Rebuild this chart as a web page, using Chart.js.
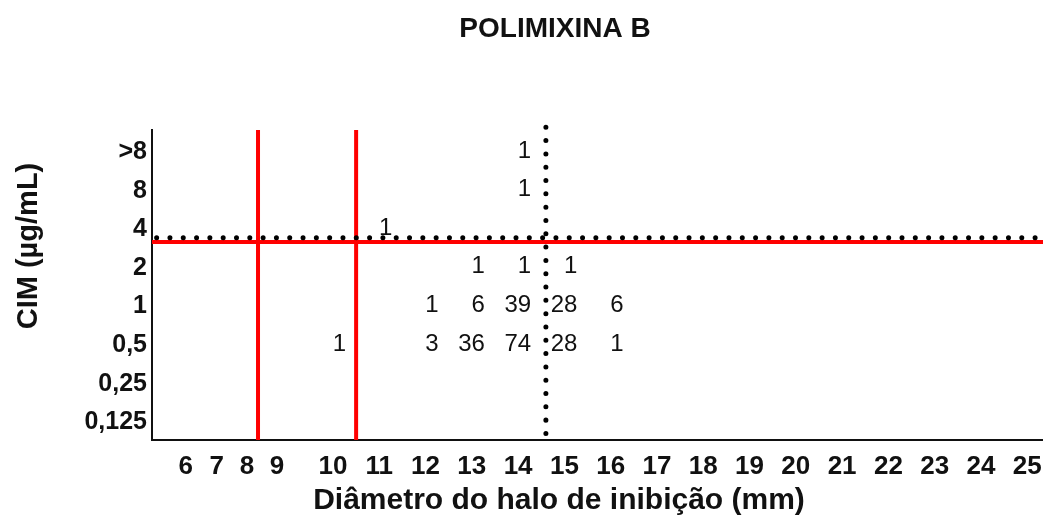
<!DOCTYPE html>
<html>
<head>
<meta charset="utf-8">
<title>Polimixina B</title>
<script src="https://cdn.jsdelivr.net/npm/chart.js@4"></script>
<style>
  html, body { margin: 0; padding: 0; background: #fff; overflow: hidden; }
  #wrap { width: 1043px; height: 524px; }
</style>
</head>
<body>
<div id="wrap"><canvas id="chart" width="1043" height="524"></canvas></div>
<script>
// Polimixina B — CIM x diâmetro do halo (scattergram with counts)

// Data

const chartTitle = 'POLIMIXINA B';
const xCaption   = 'Diâmetro do halo de inibição (mm)';
const yCaption   = 'CIM (µg/mL)';

const diameterLabels = ['6', '7', '8', '9', '10', '11', '12', '13', '14', '15',
                        '16', '17', '18', '19', '20', '21', '22', '23', '24', '25'];
const micLabels = ['>8', '8', '4', '2', '1', '0,5', '0,25', '0,125'];

// one entry per filled cell
const cellDiameter = [14, 14, 11, 13, 14, 15, 12, 13, 14, 15, 16, 10, 12, 13, 14, 15, 16];
const cellMic      = ['>8', '8', '4', '2', '2', '2', '1', '1', '1', '1', '1',
                      '0,5', '0,5', '0,5', '0,5', '0,5', '0,5'];
const cellCount    = [1, 1, 1, 1, 1, 1, 1, 6, 39, 28, 6, 1, 3, 36, 74, 28, 1];

// breakpoint lines (mm / MIC row index)
const redDiskCuts = [8.37, 10.5];
const redMicCut   = 2.33;
const dotDiskCut  = 14.6;
const dotMicCut   = 2.22;

// Axis layout (the x axis of the original is not evenly spaced below 10 mm)

const diameterSlots = [6.82, 7.49, 8.14, 8.79, 10, 11, 12, 13, 14, 15,
                       16, 17, 18, 19, 20, 21, 22, 23, 24, 25];
const X_MIN = 6.09, X_MAX = 25.34;
const Y_MIN = -0.57, Y_MAX = 7.46;

function mmToSlot(mm) {
  const d = diameterLabels.map(Number);
  for (let i = 0; i < d.length - 1; i++) {
    if (mm >= d[i] && mm <= d[i + 1]) {
      const t = (mm - d[i]) / (d[i + 1] - d[i]);
      return diameterSlots[i] + t * (diameterSlots[i + 1] - diameterSlots[i]);
    }
  }
  return diameterSlots[diameterSlots.length - 1];
}

const SANS = "'Liberation Sans', Arial, sans-serif";

// Datasets

const countPoints = cellCount.map((n, i) => ({
  x: mmToSlot(cellDiameter[i]),
  y: micLabels.indexOf(cellMic[i]),
  n,
}));

function lineSet(points, color, width, dotted, order) {
  return {
    type: 'line',
    data: points,
    showLine: true,
    borderColor: color,
    borderWidth: width,
    borderDash: dotted ? [0.01, 13.3] : [],
    borderCapStyle: dotted ? 'round' : 'butt',
    pointRadius: 0,
    clip: false,
    order,
  };
}

const datasets = [
  {
    label: 'counts',
    data: countPoints,
    pointRadius: 0,
    order: 1,
  },
  ...redDiskCuts.map(mm => lineSet(
    [{ x: mmToSlot(mm), y: Y_MIN }, { x: mmToSlot(mm), y: Y_MAX }], '#ff0000', 4, false, 4)),
  lineSet([{ x: X_MIN, y: redMicCut }, { x: X_MAX, y: redMicCut }], '#ff0000', 4, false, 4),
  lineSet([{ x: mmToSlot(dotDiskCut), y: Y_MIN - 0.07 }, { x: mmToSlot(dotDiskCut), y: Y_MAX }], '#000', 5, true, 2),
  lineSet([{ x: X_MIN + 0.1, y: dotMicCut }, { x: X_MAX + 0.3, y: dotMicCut }], '#000', 5, true, 2),
];

// Plugins

// writes the count of isolates in each cell
const cellCountPlugin = {
  id: 'cellCounts',
  afterDatasetsDraw(chart) {
    const meta = chart.getDatasetMeta(0);
    const ctx = chart.ctx;
    ctx.save();
    ctx.font = "24px " + SANS;
    ctx.fillStyle = '#111';
    ctx.textAlign = 'right';
    ctx.textBaseline = 'middle';
    meta.data.forEach((el, i) => {
      ctx.fillText(String(countPoints[i].n), el.x + 13, el.y - 1);
    });
    ctx.restore();
  },
};

// title and axis captions (the original has them off-centre)
const captionPlugin = {
  id: 'captions',
  afterDraw(chart) {
    const ctx = chart.ctx;
    ctx.save();
    ctx.fillStyle = '#111';
    ctx.textAlign = 'center';
    ctx.textBaseline = 'middle';

    ctx.font = "bold 28px " + SANS;
    ctx.fillText(chartTitle, 555, 29);

    ctx.font = "bold 30px " + SANS;
    ctx.fillText(xCaption, 559, 501);

    ctx.font = "bold 29px " + SANS;
    ctx.translate(29, 246);
    ctx.rotate(-Math.PI / 2);
    ctx.fillText(yCaption, 0, 0);
    ctx.restore();
  },
};

// Chart

new Chart(document.getElementById('chart'), {
  type: 'scatter',
  data: { datasets },
  options: {
    responsive: false,
    animation: false,
    layout: { padding: { top: 130, left: 0, right: 0, bottom: 0 } },
    plugins: {
      legend: { display: false },
      tooltip: { enabled: false },
      title: { display: false },
    },
    scales: {
      x: {
        type: 'linear',
        min: X_MIN,
        max: X_MAX,
        afterBuildTicks: scale => {
          scale.ticks = diameterSlots.map(v => ({ value: v }));
        },
        afterFit: scale => {
          scale.height = 84;
          scale.paddingLeft = 0;
          scale.paddingRight = 0;
        },
        grid: { display: false, drawTicks: false },
        border: { display: true, color: '#111', width: 2 },
        ticks: {
          autoSkip: false,
          maxRotation: 0,
          padding: 11,
          color: '#111',
          font: { family: SANS, size: 26, weight: 'bold' },
          callback: (value, index) => diameterLabels[index],
        },
      },
      y: {
        type: 'linear',
        reverse: true,
        min: Y_MIN,
        max: Y_MAX,
        afterBuildTicks: scale => {
          scale.ticks = micLabels.map((_, i) => ({ value: i }));
        },
        afterFit: scale => {
          scale.width = 152;
          scale.paddingTop = 0;
          scale.paddingBottom = 0;
        },
        grid: { display: false, drawTicks: false },
        border: { display: true, color: '#111', width: 2 },
        ticks: {
          autoSkip: false,
          padding: 5,
          color: '#111',
          font: { family: SANS, size: 25, weight: 'bold' },
          callback: value => micLabels[value],
        },
      },
    },
  },
  plugins: [cellCountPlugin, captionPlugin],
});
</script>
</body>
</html>
